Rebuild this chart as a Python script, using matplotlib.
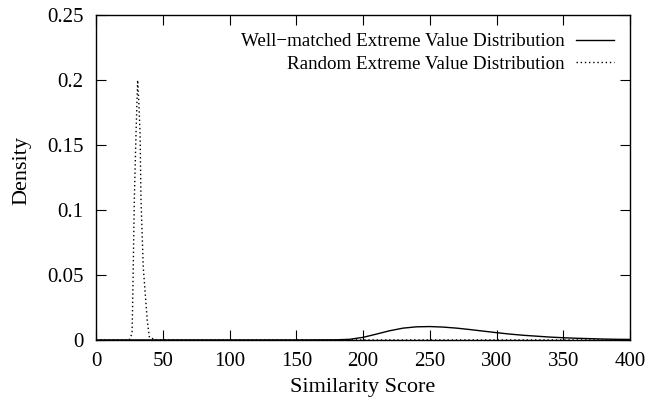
import matplotlib.pyplot as plt
from matplotlib.ticker import FuncFormatter

plt.rcParams['font.family'] = ['Liberation Serif', 'DejaVu Serif']

# well-matched extreme value distribution
well_x = [0, 50, 100, 150, 180, 190, 200, 210, 220, 230, 240, 250, 260, 270,
          280, 290, 300, 310, 320, 330, 340, 350, 360, 370, 380, 390, 400]
well_y = [0, 0, 0, 0, 0.0001, 0.0005, 0.0020, 0.0045, 0.0071, 0.0091, 0.0101,
          0.0103, 0.0099, 0.0091, 0.0080, 0.0068, 0.0056, 0.0045, 0.0036,
          0.0029, 0.0022, 0.0017, 0.0013, 0.0010, 0.0007, 0.0005, 0.0004]

# random extreme value distribution
rand_x = [0, 24, 25, 27, 27.5, 28.7, 30, 31.2, 32.2, 33, 33.7, 35.4, 38.4, 40,
          45, 100, 200, 300, 400]
rand_y = [0, 0, 0.0, 0.005, 0.03, 0.108, 0.16, 0.2, 0.18, 0.159, 0.108, 0.056,
          0.015, 0.002, 0, 0, 0, 0, 0]

fig = plt.figure(figsize=(6.53, 3.99), dpi=100)
ax = fig.add_axes([0.147, 0.148, 0.818, 0.814])

ax.plot(well_x, well_y, color='black', lw=1.0,
        label="Well\u2212matched Extreme Value Distribution")
ax.plot(rand_x, rand_y, color='black', lw=1.0, linestyle=(0, (1, 2)),
        label="Random Extreme Value Distribution")

ax.set_xlim(0, 400)
ax.set_ylim(0, 0.25)
ax.set_xticks(range(0, 401, 50))
ax.set_yticks([0, 0.05, 0.1, 0.15, 0.2, 0.25])
ax.yaxis.set_major_formatter(FuncFormatter(lambda v, p: '%g' % v))
ax.tick_params(direction='in', length=7, width=0.8, top=True, right=True,
               labelsize=15, pad=9)
for s in ax.spines.values():
    s.set_linewidth(1.0)

ax.set_xlabel("Similarity Score", fontsize=16, labelpad=5)
ax.set_ylabel("Density", fontsize=16, labelpad=11, y=0.523)

ax.legend(loc='upper right', frameon=False, markerfirst=False, fontsize=13.7,
          handlelength=2.0, handletextpad=0.6, labelspacing=0.28,
          borderaxespad=0, bbox_to_anchor=(0.984, 0.968))

fig.savefig("out.png")
